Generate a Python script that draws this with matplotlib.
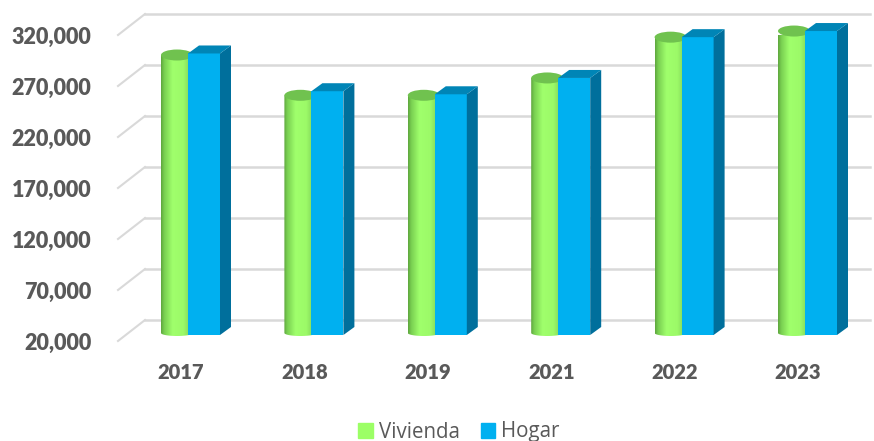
import matplotlib
matplotlib.use('Agg')
import matplotlib.pyplot as plt
from matplotlib.colors import LinearSegmentedColormap
from matplotlib.patches import Ellipse, Patch, PathPatch
from matplotlib.path import Path
from matplotlib.transforms import Affine2D
import numpy as np

#Data
years = ['2017', '2018', '2019', '2021', '2022', '2023']
vivienda = [294500, 255000, 255000, 272000, 312000, 318000]
hogar = [296000, 259000, 256000, 272000, 312000, 318000]
y_ticks = [20000, 70000, 120000, 170000, 220000, 270000, 320000]

plt.rcParams['font.family'] = ['Lato', 'DejaVu Sans']
GREY = '#595959'
GRID = '#D9D9D9'

W, H = 874, 441
fig = plt.figure(figsize=(W / 100, H / 100), dpi=100)
ax = fig.add_axes([118 / W, (H - 341) / H, (843 - 118) / W, 306 / H])

#one pixel in data units
XPX = 1 / 123.4
YPX = 50000 / 51
ax.set_xlim((118 - 181) * XPX, (843 - 181) * XPX)
ax.set_ylim(20000, 320000)

#fake 3D planes, shifted in pixels from the front of the axes
back = ax.transData + Affine2D().translate(27, 21)
plane = ax.transData + Affine2D().translate(7, 6)

#Gridlines: diagonal on the side wall then the back wall
x0, x1 = ax.get_xlim()
for t in y_ticks:
    ax.plot([x0, x0 + 27 * XPX], [t, t + 21 * YPX], color=GRID, lw=1.5, zorder=1, clip_on=False)
    ax.plot([x0, x1], [t, t], color=GRID, lw=1.8, zorder=1, clip_on=False, transform=back)

#Green cylinders with a horizontal gradient
green_map = LinearSegmentedColormap.from_list(
    'cyl', [(0, '#5FA83F'), (0.1, '#7AD052'), (0.36, '#A0FF6C'), (0.7, '#9CFA68'), (1, '#7CCB54')])
cw = 32 * XPX
eh = 11 * YPX
theta = np.linspace(0, np.pi, 30)
for i, v in enumerate(vivienda):
    xc = i + (-27 + 16) * XPX
    bx = xc + cw / 2 * np.cos(theta)
    by = 20000 - 3 * YPX * np.sin(theta) + 2 * YPX
    tx = xc + cw / 2 * np.cos(theta[::-1])
    ty = np.full_like(theta, v)
    verts = np.column_stack([np.r_[bx, tx], np.r_[by, ty]])
    body = PathPatch(Path(np.vstack([verts, verts[0]])), fc='none', ec='none', transform=plane, clip_on=False)
    ax.add_patch(body)
    im = ax.imshow(np.linspace(0, 1, 64).reshape(1, -1), cmap=green_map, aspect='auto',
                   extent=[xc - cw / 2, xc + cw / 2, 15000, v + 1000], zorder=3, transform=plane)
    im.set_clip_path(body)
    ax.add_patch(Ellipse((xc, v), cw, eh, fc='#70C24F', ec='none', zorder=3.1, transform=plane, clip_on=False))

#Blue boxes: front, side and top faces
bw = 32 * XPX
dx = 11 * XPX
dy = 8 * YPX
ax.bar(np.arange(len(years)) + bw / 2, np.array(hogar) - 20000, bottom=20000, width=bw,
       color='#00B0F0', zorder=4, transform=plane, clip_on=False)
for i, v in enumerate(hogar):
    xl = i
    xr = i + bw
    ax.fill([xr, xr + dx, xr + dx, xr], [20000, 20000 + dy, v + dy, v],
            color='#006F9C', lw=0, zorder=4, transform=plane, clip_on=False)
    ax.fill([xl, xl + dx, xr + dx, xr], [v, v + dy, v + dy, v],
            color='#0085B6', lw=0, zorder=4, transform=plane, clip_on=False)

ax.set_xlim(x0, x1)
ax.set_ylim(20000, 320000)

#Axis labels
ax.set_xticks(np.arange(len(years)))
ax.set_xticklabels(years, fontsize=14.5, fontweight=800, color=GREY)
ax.set_yticks(y_ticks)
ax.set_yticklabels([f'{t:,}' for t in y_ticks], fontsize=15.5, fontweight=800, color=GREY)
ax.tick_params(axis='x', length=0, pad=15.5)
ax.tick_params(axis='y', length=0, pad=19)
for s in ax.spines.values():
    s.set_visible(False)
ax.patch.set_visible(False)

#Legend
handles = [Patch(color='#9CFF66', label='Vivienda'), Patch(color='#00B0F0', label='Hogar')]
fig.legend(handles=handles, loc='center', bbox_to_anchor=(459 / W, (H - 432) / H), ncol=2, frameon=False,
           labelcolor=GREY, prop={'family': 'Open Sans', 'size': 14.8},
           handlelength=0.72, handleheight=0.72,
           handletextpad=0.3, columnspacing=1.0, borderpad=0)

fig.savefig('out.png', dpi=100)
